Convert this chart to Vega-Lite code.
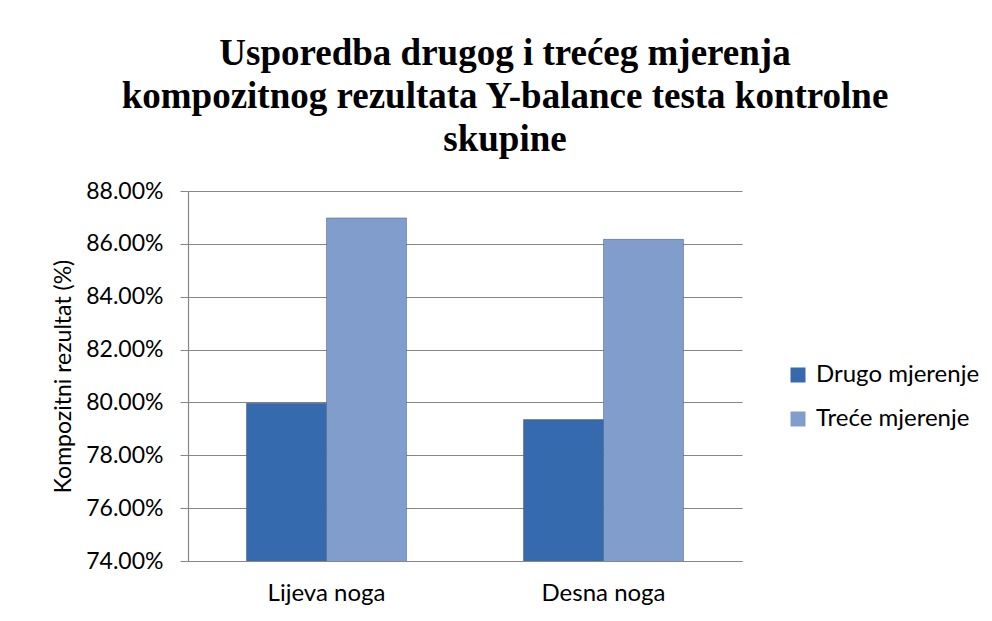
{
  "$schema": "https://vega.github.io/schema/vega-lite/v6.json",
  "autosize": {"type": "none"},
  "width": 554,
  "height": 370,
  "padding": {"left": 188, "top": 191, "right": 250, "bottom": 60},
  "background": "white",
  "config": {
    "view": {"stroke": null},
    "font": "Lato",
    "axis": {"labelFont": "Lato", "titleFont": "Lato", "labelColor": "#000000", "titleColor": "#000000", "labelFontSize": 23, "titleFontSize": 23, "titleFontWeight": "normal"},
    "legend": {"labelFont": "Lato", "labelFontSize": 24, "labelColor": "#000000", "labelLimit": 0}
  },
  "title": {
    "text": ["Usporedba drugog i trećeg mjerenja", "kompozitnog rezultata Y-balance testa kontrolne", "skupine"],
    "font": "Liberation Serif",
    "fontSize": 37,
    "fontWeight": "bold",
    "color": "#000000",
    "lineHeight": 43,
    "anchor": "middle",
    "frame": "group",
    "dx": 40,
    "offset": 21
  },
  "data": {
    "values": [
      {"noga": "Lijeva noga", "mjerenje": "Drugo mjerenje", "v": 0.7997},
      {"noga": "Lijeva noga", "mjerenje": "Treće mjerenje", "v": 0.8698},
      {"noga": "Desna noga", "mjerenje": "Drugo mjerenje", "v": 0.7935},
      {"noga": "Desna noga", "mjerenje": "Treće mjerenje", "v": 0.8617}
    ]
  },
  "mark": {"type": "bar", "clip": true, "stroke": "#3a4f70", "strokeWidth": 1, "strokeOpacity": 0.45},
  "encoding": {
    "x": {
      "field": "noga", "type": "nominal", "sort": ["Lijeva noga", "Desna noga"],
      "scale": {"domain": ["Lijeva noga", "Desna noga"], "paddingInner": 0.4224, "paddingOuter": 0.2112},
      "axis": {"title": null, "labelAngle": 0, "ticks": false, "labelPadding": 20, "labelFontSize": 24, "domainColor": "#868686", "domainWidth": 1.2}
    },
    "xOffset": {"field": "mjerenje", "type": "nominal", "scale": {"domain": ["Drugo mjerenje", "Treće mjerenje"], "padding": 0}},
    "y": {
      "field": "v", "type": "quantitative",
      "scale": {"domain": [0.74, 0.88], "nice": false, "zero": false},
      "axis": {"title": "Kompozitni rezultat (%)", "format": ".2%", "values": [0.74, 0.76, 0.78, 0.8, 0.82, 0.84, 0.86, 0.88], "gridColor": "#868686", "gridWidth": 1.2, "domainColor": "#868686", "domainWidth": 1.2, "tickColor": "#868686", "tickSize": 8, "labelPadding": 17, "titlePadding": 10}
    },
    "color": {
      "field": "mjerenje", "type": "nominal",
      "scale": {"domain": ["Drugo mjerenje", "Treće mjerenje"], "range": ["#356aae", "#819dcc"]},
      "legend": {"title": null, "orient": "none", "legendX": 598, "legendY": 172, "symbolType": "square", "symbolSize": 225, "symbolStrokeWidth": 0, "rowPadding": 20, "labelOffset": 6}
    }
  }
}
